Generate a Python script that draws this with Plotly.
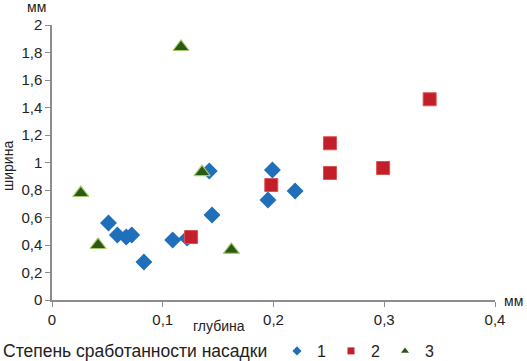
import plotly.graph_objects as go

# Series 1 (blue diamonds)
x1 = [0.051, 0.059, 0.067, 0.072, 0.083, 0.109, 0.122, 0.142, 0.1445, 0.195, 0.199, 0.2195]
y1 = [0.56, 0.473, 0.458, 0.473, 0.276, 0.436, 0.45, 0.938, 0.618, 0.727, 0.945, 0.793]
# Series 2 (red squares)
x2 = [0.1256, 0.198, 0.251, 0.251, 0.299, 0.341]
y2 = [0.458, 0.836, 1.14, 0.924, 0.96, 1.46]
# Series 3 (green triangles)
x3 = [0.026, 0.0416, 0.1165, 0.1355, 0.162]
y3 = [0.778, 0.40, 1.84, 0.93, 0.364]

names = ["1", "2", "3"]
xticks = [0, 0.1, 0.2, 0.3, 0.4]
yticks = [0, 0.2, 0.4, 0.6, 0.8, 1, 1.2, 1.4, 1.6, 1.8, 2]

blue = "#1F6FBA"
red = "#C21F2B"
green = "#2B5A14"

W, H = 527, 361
L, R, T, B = 52, 32, 25, 61
pw, ph = W - L - R, H - T - B


def px2paper(px, py):
    return (px - L) / pw, (H - B - py) / ph


fig = go.Figure()
styles = [
    (x1, y1, "diamond", 13, blue, blue, 0),
    (x2, y2, "square", 13, red, "#D9534F", 1),
    (x3, y3, "triangle-up", 14, green, "#A7C96A", 1.2),
]
for xs, ys, sym, sz, col, lcol, lw in styles:
    fig.add_trace(go.Scatter(x=xs, y=ys, mode="markers", showlegend=False,
                             hoverinfo="skip",
                             marker=dict(symbol=sym, size=sz, color=col,
                                         line=dict(color=lcol, width=lw))))
for i, (xs, ys, sym, sz, col, lcol, lw) in enumerate(styles):
    fig.add_trace(go.Scatter(x=[None], y=[None], mode="markers", name=names[i],
                             marker=dict(symbol=sym, size=7, color=col)))

font = "Liberation Sans, Arial, sans-serif"
ann = []
for text, px, py, ang, xa, fs in [("ширина", 8, 166, -90, "center", 14),
                                  ("мм", 36, 7, 0, "center", 14),
                                  ("мм", 513, 301, 0, "center", 14),
                                  ("глубина", 219, 326, 0, "center", 14),
                                  ("Степень сработанности насадки", 1, 351, 0, "left", 17.5)]:
    ax, ay = px2paper(px, py)
    ann.append(dict(text=text, x=ax, y=ay, xref="paper", yref="paper",
                    xanchor=xa, yanchor="middle", showarrow=False,
                    textangle=ang, font=dict(size=fs)))

fig.update_layout(
    width=W, height=H,
    margin=dict(l=L, r=R, t=T, b=B, autoexpand=False),
    paper_bgcolor="white", plot_bgcolor="white",
    separators=", ",
    font=dict(family=font, size=15, color="#222"),
    xaxis=dict(range=[0, 0.4], tickvals=xticks, showgrid=False, zeroline=False,
               showline=True, linecolor="#8c8c8c", linewidth=1.5, automargin=False,
               ticks="outside", ticklen=5, tickcolor="#8c8c8c",
               tickfont=dict(size=15)),
    yaxis=dict(range=[0, 2], tickvals=yticks, showgrid=False, zeroline=False,
               showline=True, linecolor="#8c8c8c", linewidth=1.5, automargin=False,
               ticks="outside", ticklen=5, tickcolor="#8c8c8c",
               tickfont=dict(size=15)),
    legend=dict(orientation="h", x=277 / W, y=(H - 351) / H, xanchor="left", yanchor="middle",
                xref="container", yref="container",
                font=dict(size=16), tracegroupgap=0, itemwidth=30,
                bgcolor="rgba(0,0,0,0)"),
    annotations=ann,
)
fig.write_html("out.html", config={"displayModeBar": False},
               post_script="document.body.style.margin='0';document.body.style.overflow='hidden';")
